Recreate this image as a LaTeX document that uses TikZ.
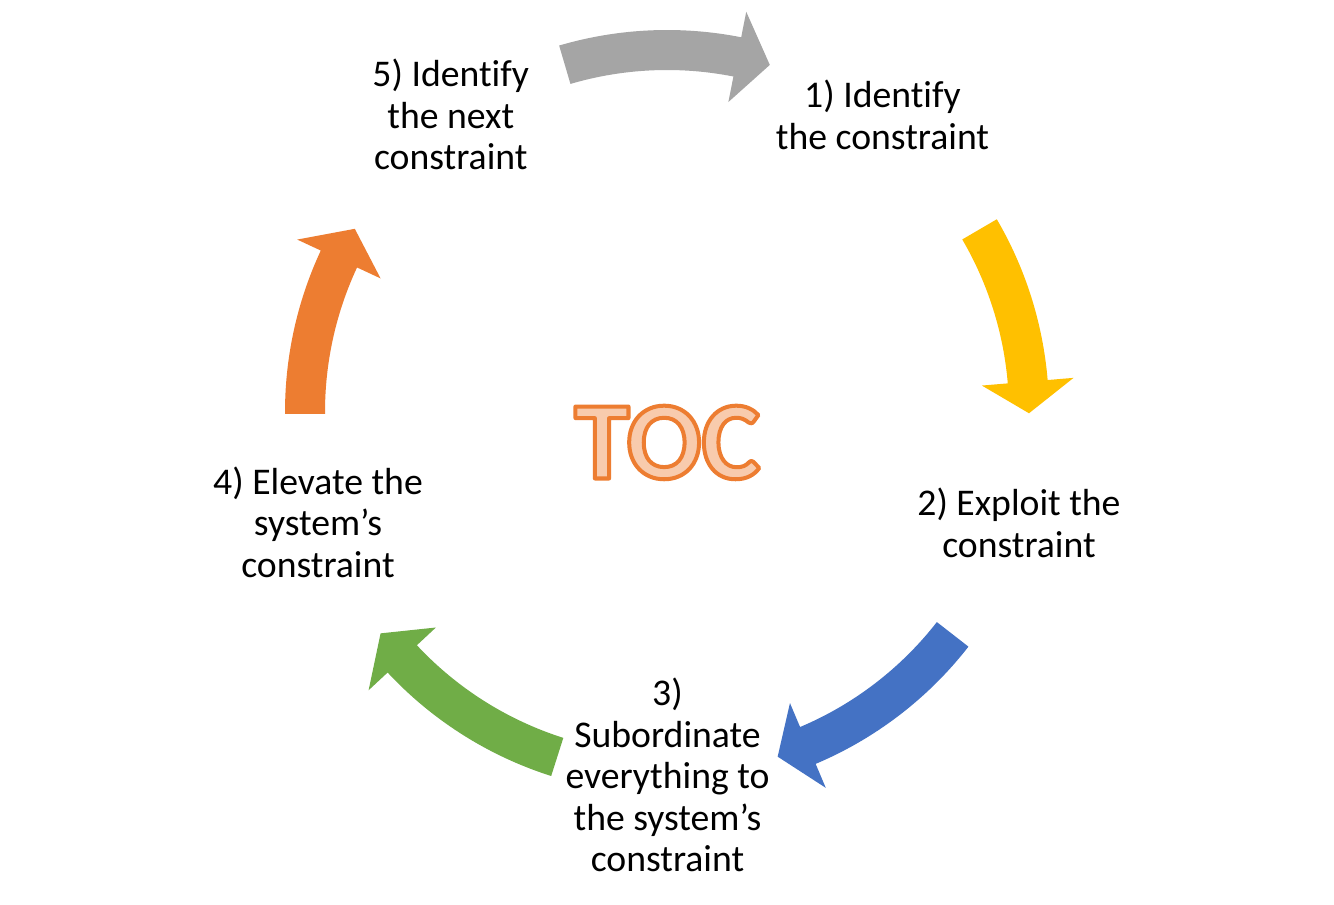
\documentclass[tikz,border=0pt]{standalone}
\usepackage{fontspec}
\setmainfont{Carlito}[Ligatures=NoCommon]
\definecolor{arrgray}{HTML}{A5A5A5}
\definecolor{arryellow}{HTML}{FFC000}
\definecolor{arrblue}{HTML}{4472C4}
\definecolor{arrgreen}{HTML}{70AD47}
\definecolor{arrorange}{HTML}{ED7D31}
\definecolor{toclight}{HTML}{F8CBAD}
\newcommand{\cyclines}[1]{\begin{tabular}[t]{@{}c@{}}#1\end{tabular}}
% outlined text: light fill, orange stroke centred on the glyph edge
\newcommand{\outlinedtext}[1]{{\color{toclight}%
  \special{pdf:literal direct 2 Tr 4 w 1 j 0.929 0.490 0.192 RG}#1%
  \special{pdf:literal direct 0 Tr}}}
% color, tail angle, head-base angle, tip angle
\newcommand{\cycarrow}[4]{%
  \fill[#1] (#2:382pt) arc[start angle=#2, end angle=#3, radius=382pt]
    -- (#3:408pt) -- (#4:362pt) -- (#3:316pt) -- (#3:342pt)
    arc[start angle=#3, end angle=#2, radius=342pt] -- cycle;}
\tikzset{
  lbl/.style={inner sep=0pt, anchor=base, text=black,
    font=\fontsize{37.7}{41.4}\selectfont},
  toctext/.style={inner sep=0pt, anchor=base,
    font=\fontsize{111}{111}\selectfont\bfseries},
}
\begin{document}
\begin{tikzpicture}[x=1pt,y=1pt]
\useasboundingbox (0,0) rectangle (1334,905);
\fill[white] (0,0) rectangle (1334,905);
\begin{scope}[shift={(667,493)}]
  \cycarrow{arrgray}{106.4}{78.8}{73.5}
  \cycarrow{arryellow}{30.3}{4.8}{-0.2}
  \cycarrow{arrblue}{-37.9}{-67.1}{-72.2}
  \cycarrow{arrgreen}{-107.65}{-137.0}{-142.3}
  \cycarrow{arrorange}{180.3}{155.0}{149.6}
\end{scope}
\node[lbl] (n1) at (882.5,797) {\cyclines{1) Identify\\the constraint}};
\node[lbl] (n2) at (1019,389) {\cyclines{2) Exploit the\\constraint}};
\node[lbl] (n3) at (667.5,199) {\cyclines{3)\\Subordinate\\everything to\\the system’s\\constraint}};
\node[lbl] (n4) at (318,410.5) {\cyclines{4) Elevate the\\system’s\\constraint}};
\node[lbl] (n5) at (450.8,818) {\cyclines{5) Identify\\the next\\constraint}};
\node[toctext] (toc) at (667.4,426.5) {\outlinedtext{TOC}};
\end{tikzpicture}
\end{document}
